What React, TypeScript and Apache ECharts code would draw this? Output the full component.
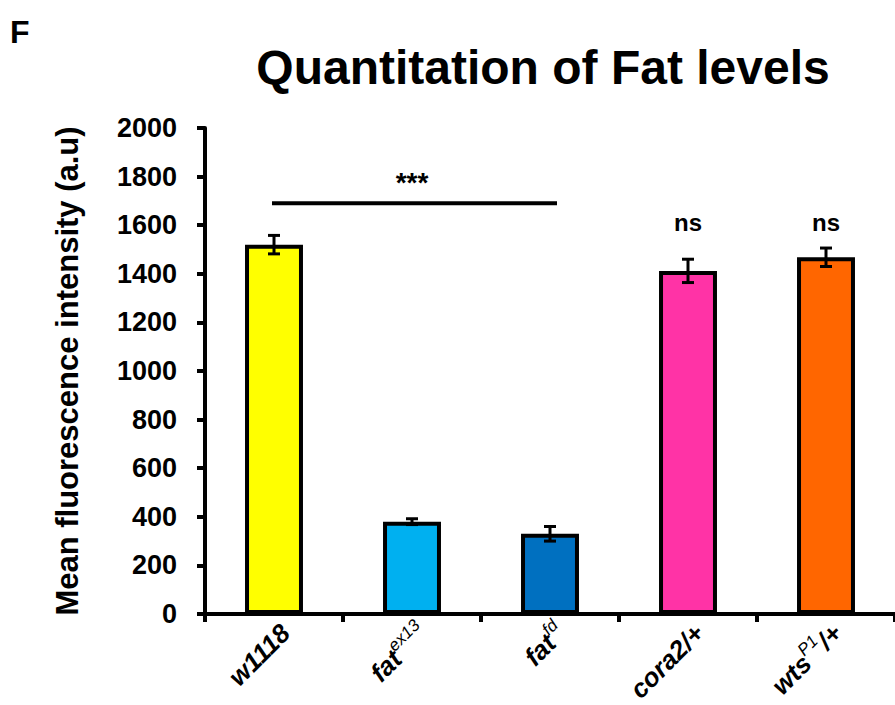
import React, { useEffect, useRef } from "react";
import * as echarts from "echarts";

const categories = ["w1118", "fatex13", "fatfd", "cora2/+", "wtsP1/+"];
const categoryLabels = [
  "{b|w1118}",
  "{b|fat}{sup|ex13}",
  "{b|fat}{sup|fd}",
  "{b|cora2/+}",
  "{b|wts}{sup|P1}{b|/+}",
];
const meanValues = [1520, 380, 330, 1412, 1468];
const errorValues = [38, 12, 30, 48, 38];
const barColors = ["#FFFF00", "#00B0F0", "#0070C0", "#FF33A6", "#FF6600"];
const yTicks = { min: 0, max: 2000, interval: 200 };
// significance: [fromCategory, toCategory, level]
const sigLine = [[0, 2, 1690]];
// annotation: [category, value, text]
const annotations: [number, number, string][] = [
  [1, 1775, "***"],
  [3, 1612, "ns"],
  [4, 1612, "ns"],
];

const FONT = "'Liberation Sans', Arial, sans-serif";

export default function App() {
  const ref = useRef<HTMLDivElement>(null);
  useEffect(() => {
    if (!ref.current) return;
    const chart = echarts.init(ref.current, null, { renderer: "svg" });
    const option: any = {
      animation: false,
      backgroundColor: "#ffffff",
      grid: {
        left: 205,
        right: 0,
        top: 128,
        bottom: 91,
        outerBoundsMode: "none",
        containLabel: false,
      },
      graphic: [
        {
          type: "text",
          x: 10,
          y: 16,
          style: { text: "F", font: `bold 32px ${FONT}`, fill: "#000" },
        },
        {
          type: "text",
          x: 543,
          y: 67,
          style: {
            text: "Quantitation of Fat levels",
            font: `bold 48px ${FONT}`,
            fill: "#000",
            align: "center",
            verticalAlign: "middle",
          },
        },
      ],
      xAxis: {
        type: "category",
        data: categories,
        axisLine: { lineStyle: { color: "#000", width: 4 } },
        axisTick: { show: true, length: 8, lineStyle: { color: "#000", width: 4 } },
        axisLabel: {
          rotate: 45,
          margin: 26,
          interval: 0,
          padding: [0, -16, 0, 0],
          formatter: (_v: string, i: number) => categoryLabels[i],
          rich: {
            b: {
              fontFamily: FONT,
              fontSize: 26,
              fontStyle: "italic",
              fontWeight: "bold",
              color: "#000",
            },
            sup: {
              fontFamily: FONT,
              fontSize: 17,
              fontStyle: "italic",
              color: "#000",
              padding: [0, 0, 18, 0],
            },
          },
        },
        splitLine: { show: false },
      },
      yAxis: {
        type: "value",
        min: yTicks.min,
        max: yTicks.max,
        interval: yTicks.interval,
        name: "Mean fluorescence intensity (a.u)",
        nameLocation: "middle",
        nameRotate: 90,
        nameGap: 122,
        nameTextStyle: {
          fontFamily: FONT,
          fontSize: 31,
          fontWeight: "bold",
          color: "#000",
        },
        axisLine: { show: true, lineStyle: { color: "#000", width: 4 } },
        axisTick: { show: true, length: 8, lineStyle: { color: "#000", width: 4 } },
        axisLabel: {
          margin: 28,
          fontFamily: FONT,
          fontSize: 27,
          fontWeight: "bold",
          color: "#000",
          formatter: (v: number) => String(v),
        },
        splitLine: { show: false },
      },
      series: [
        {
          type: "bar",
          barWidth: "42%",
          data: meanValues.map((v, i) => ({
            value: v,
            itemStyle: { color: barColors[i], borderColor: "#000", borderWidth: 4 },
          })),
          z: 2,
        },
        {
          type: "custom",
          z: 3,
          data: meanValues.map((v, i) => [i, v - errorValues[i], v + errorValues[i]]),
          renderItem: (params: any, api: any) => {
            const x = api.value(0);
            const lo = api.coord([x, api.value(1)]);
            const hi = api.coord([x, api.value(2)]);
            const hw = 6;
            const style = { stroke: "#000", lineWidth: 3 };
            return {
              type: "group",
              children: [
                { type: "line", shape: { x1: lo[0], y1: lo[1], x2: hi[0], y2: hi[1] }, style },
                { type: "line", shape: { x1: hi[0] - hw, y1: hi[1], x2: hi[0] + hw, y2: hi[1] }, style },
                { type: "line", shape: { x1: lo[0] - hw, y1: lo[1], x2: lo[0] + hw, y2: lo[1] }, style },
              ],
            };
          },
        },
        {
          type: "custom",
          z: 3,
          data: sigLine,
          renderItem: (params: any, api: any) => {
            const a = api.coord([api.value(0), api.value(2)]);
            const b = api.coord([api.value(1), api.value(2)]);
            return {
              type: "line",
              shape: { x1: a[0] - 2, y1: a[1], x2: b[0] + 7, y2: b[1] },
              style: { stroke: "#000", lineWidth: 4 },
            };
          },
        },
        {
          type: "custom",
          z: 3,
          data: annotations,
          renderItem: (params: any, api: any) => {
            const p = api.coord([api.value(0), api.value(1)]);
            const t = annotations[params.dataIndex][2];
            return {
              type: "text",
              x: p[0],
              y: p[1],
              style: {
                text: t,
                font: `bold ${t === "***" ? 28 : 24}px ${FONT}`,
                fill: "#000",
                align: "center",
                verticalAlign: "middle",
              },
            };
          },
        },
      ],
    };
    chart.setOption(option);
    return () => chart.dispose();
  }, []);
  return (
    <div
      ref={ref}
      style={{ position: "absolute", left: 0, top: 0, width: 895, height: 705 }}
    />
  );
}
